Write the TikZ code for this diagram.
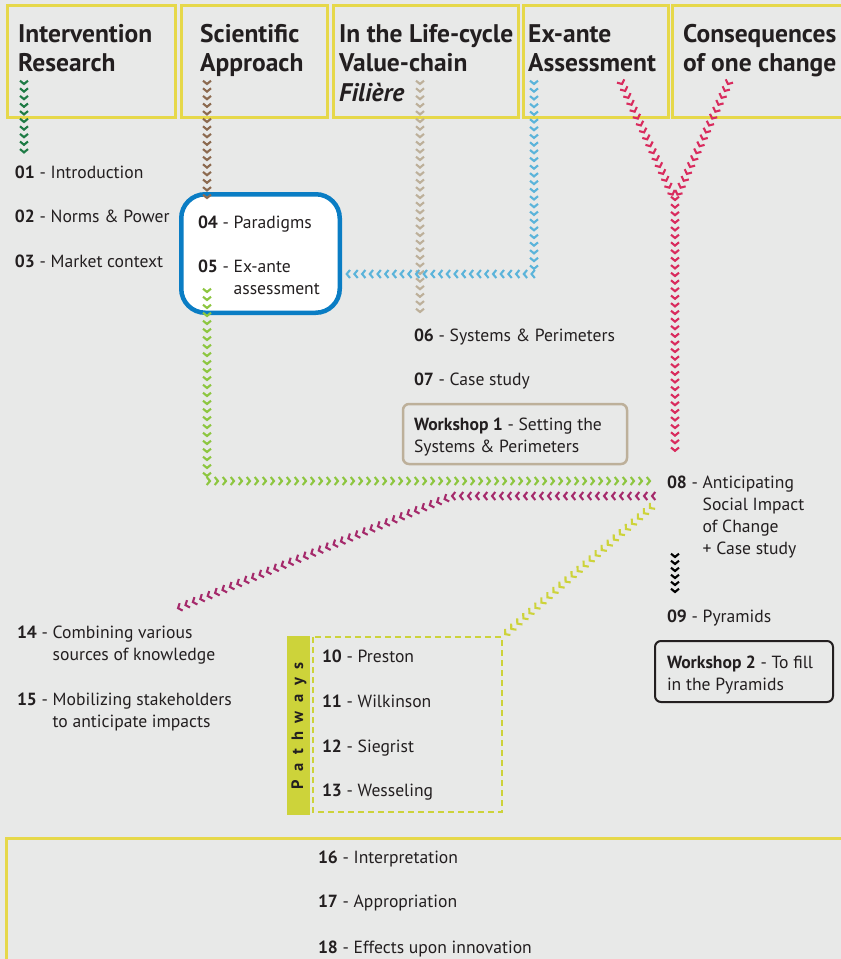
\documentclass[tikz,border=0pt]{standalone}
\usepackage{fontspec}
\setmainfont{PT Sans}
\usetikzlibrary{decorations.markings}
\definecolor{bg}{HTML}{E8E9E8}
\definecolor{yel}{HTML}{E6D84A}
\definecolor{txt}{HTML}{231F20}
\definecolor{cdkgreen}{HTML}{1E7B45}
\definecolor{cbrown}{HTML}{8C6A4F}
\definecolor{ctan}{HTML}{BDB09A}
\definecolor{cblue}{HTML}{5BB4DA}
\definecolor{cred}{HTML}{D92B5E}
\definecolor{clgreen}{HTML}{8DC640}
\definecolor{cmag}{HTML}{A52A6B}
\definecolor{cyg}{HTML}{CDD33A}
\definecolor{boxblue}{HTML}{0A7DC4}
\newcommand{\bodyfont}{\fontsize{17.6}{22.3}\selectfont}
\newcommand{\headfont}{\fontsize{25.5}{29.5}\selectfont\bfseries}
\newcommand{\mytab}[1]{\begin{tabular}[t]{@{}l@{}}#1\end{tabular}}
\newcommand{\myhang}[1]{\begin{tabular}[t]{@{}l@{\ }l@{}}#1\end{tabular}}
\tikzset{
  txtn/.style={anchor=base west, inner sep=0pt, outer sep=0pt},
  hd/.style={anchor=base west, inner sep=0pt, font=\headfont},
  hbox/.style={draw=yel, line width=3pt},
  chev/.style 2 args={decorate, decoration={markings,
     mark=between positions 0 and 1 step #2 with {\draw[#1, line width=2.1pt, line cap=butt] (-3.3pt,4pt) -- (0pt,0pt) -- (-3.3pt,-4pt);}}}
}
\begin{document}
\begin{tikzpicture}[x=1pt,y=-1pt,font=\bodyfont,text=txt]
\useasboundingbox (0,0) rectangle (841,959);
\fill[bg] (0,0) rectangle (841,959);
% header boxes
\draw[hbox] (7,5) rectangle (175,117);
\draw[hbox] (181,5) rectangle (327,117);
\draw[hbox] (333,5) rectangle (518,117);
\draw[hbox] (523,5) rectangle (668,117);
\draw[hbox] (672,5) rectangle (850,117);
\node[hd] (h1) at (18,42) {\mytab{Intervention\\Research}};
\node[hd] (h2) at (200,42) {\mytab{Scientific\\Approach}};
\node[hd] (h3) at (339,42) {\mytab{In the Life-cycle\\Value-chain\\\textit{Filière}}};
\node[hd] (h4) at (528,42) {\mytab{Ex-ante\\Assessment}};
\node[hd] (h5) at (683,42) {\mytab{Consequences\\of one change}};
% bottom box
\draw[hbox] (6,838) rectangle (850,970);
% blue rounded box
\node[draw=boxblue, line width=4.5pt, fill=white, rounded corners=24pt, minimum width=158.5pt, minimum height=118.5pt, inner sep=0pt] (pbox) at (260.5,253.5) {};
% workshop boxes
\draw[ctan, line width=2.5pt, rounded corners=6pt] (403,404) rectangle (627,464);
\draw[txt, line width=2pt, rounded corners=6pt] (655,641) rectangle (833,702);
% pathways
\fill[cyg] (287,636) rectangle (310,815);
\draw[cyg, line width=2.2pt, dash pattern=on 6pt off 4pt] (313,637) rectangle (502,812);
\coordinate (pwc) at (502,637);
\node[rotate=90, inner sep=0pt, font=\fontsize{16.5}{18}\selectfont\bfseries] (pw) at (299,726) {P\hspace{8.5pt}a\hspace{8.5pt}t\hspace{8.5pt}h\hspace{8.5pt}w\hspace{8.5pt}a\hspace{8.5pt}y\hspace{8.5pt}s};
% texts
\node[txtn] (n01) at (15,178) {\textbf{01} - Introduction};
\node[txtn] (n02) at (15,222) {\textbf{02} - Norms \& Power};
\node[txtn] (n03) at (15,267) {\textbf{03} - Market context};
\node[txtn] (n04) at (198,228) {\textbf{04} - Paradigms};
\node[txtn] (n05) at (198,272) {\myhang{\textbf{05} - & Ex-ante\\ & assessment}};
\node[txtn] (n06) at (414,341) {\textbf{06} - Systems \& Perimeters};
\node[txtn] (n07) at (414,385) {\textbf{07} - Case study};
\node[txtn] (w1) at (414,430) {\mytab{\textbf{Workshop 1} - Setting the\\Systems \& Perimeters}};
\node[txtn] (n08) at (667,488) {\myhang{\textbf{08} - & Anticipating\\ & Social Impact\\ & of Change\\ & + Case study}};
\node[txtn] (n09) at (667,622) {\textbf{09} - Pyramids};
\node[txtn] (w2) at (667,668) {\mytab{\textbf{Workshop 2} - To fill\\in the Pyramids}};
\node[txtn] (n14) at (17,638) {\myhang{\textbf{14} - & Combining various\\ & sources of knowledge}};
\node[txtn] (n15) at (17,705) {\myhang{\textbf{15} - & Mobilizing stakeholders\\ & to anticipate impacts}};
\node[txtn] (n10) at (322,662) {\textbf{10} - Preston};
\node[txtn] (n11) at (322,707) {\textbf{11} - Wilkinson};
\node[txtn] (n12) at (322,752) {\textbf{12} - Siegrist};
\node[txtn] (n13) at (322,796) {\textbf{13} - Wesseling};
\node[txtn] (n16) at (318,863) {\textbf{16} - Interpretation};
\node[txtn] (n17) at (318,907) {\textbf{17} - Appropriation};
\node[txtn] (n18) at (318,953) {\textbf{18} - Effects upon innovation};
% chevron connectors
\coordinate (g0) at (24,84);  \coordinate (g1) at (24,153);
\coordinate (b0) at (207,84); \coordinate (b1) at (207,202);
\coordinate (t0) at (420,84); \coordinate (t1) at (420,318);
\coordinate (u0) at (534,84); \coordinate (u1) at (534,274);
\coordinate (r0) at (622,84); \coordinate (r1) at (728,84); \coordinate (rm) at (675,200); \coordinate (r2) at (675,456);
\coordinate (l0) at (207,292); \coordinate (l1) at (207,481); \coordinate (l2) at (652,481);
\coordinate (m0) at (652,496); \coordinate (m1) at (452,496); \coordinate (m2) at (176,609);
\coordinate (y0) at (650,508);
\coordinate (k0) at (675,557); \coordinate (k1) at (675,594);
\path[chev={cdkgreen}{7.6pt}] (g0) -- (g1);
\path[chev={cbrown}{7.6pt}] (b0) -- (b1);
\path[chev={ctan}{7.6pt}] (t0) -- (t1);
\path[chev={cblue}{7.7pt}] (u0) -- (u1) -- (u1 -| pbox.east);
\path[chev={cred}{7.6pt}] (r0) -- (rm);
\path[chev={cred}{7.6pt}] (r1) -- (rm);
\path[chev={cred}{7.6pt}] (rm) -- (r2);
\path[chev={clgreen}{8pt}] (l0) -- (l1) -- (l2);
\path[chev={cmag}{8pt}] (m0) -- (m1) -- (m2);
\path[chev={cyg}{8pt}] (y0) -- (pwc);
\path[chev={black}{7pt}] (k0) -- (k1);
\end{tikzpicture}
\end{document}
